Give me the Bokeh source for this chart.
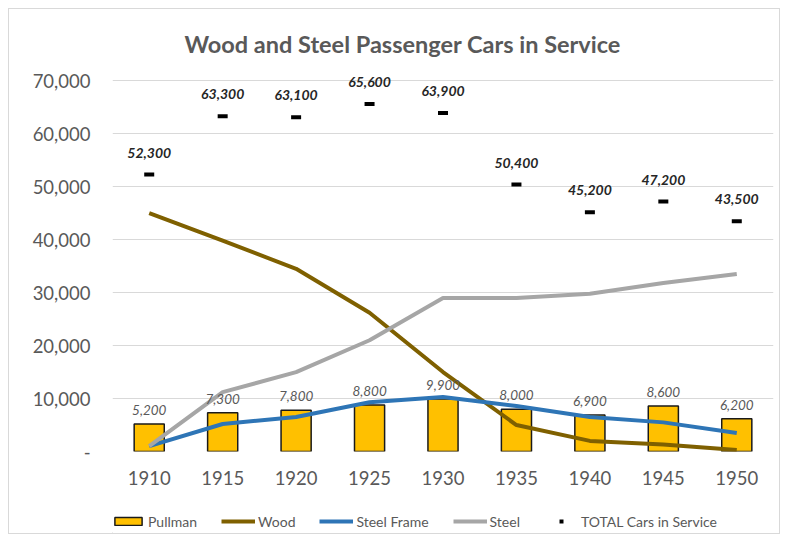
from bokeh.plotting import figure
from bokeh.layouts import column
from bokeh.models import ColumnDataSource, Range1d, FactorRange, FixedTicker, Legend, LegendItem
from bokeh.core.properties import value
from bokeh.embed import file_html
from bokeh.resources import INLINE

years = ["1910", "1915", "1920", "1925", "1930", "1935", "1940", "1945", "1950"]
pullman = [5200, 7300, 7800, 8800, 9900, 8000, 6900, 8600, 6200]
wood = [45000, 39800, 34500, 26200, 15000, 5000, 2000, 1300, 300]
steel_frame = [1000, 5200, 6500, 9300, 10300, 8600, 6500, 5500, 3500]
steel = [1000, 11200, 15000, 21000, 29000, 29000, 29800, 31800, 33500]
total = [52300, 63300, 63100, 65600, 63900, 50400, 45200, 47200, 43500]
y_ticks = [0, 10000, 20000, 30000, 40000, 50000, 60000, 70000]
series_names = ["Pullman", "Wood", "Steel Frame", "Steel", "TOTAL Cars in Service"]

FONT = "Lato"
GRAY = "#595959"
C_PULL, C_WOOD, C_SF, C_STEEL = "#FFC000", "#7F6000", "#2E75B6", "#A6A6A6"

src = ColumnDataSource(dict(
    x=years, pullman=pullman, wood=wood, steel_frame=steel_frame, steel=steel, total=total,
    pullman_lbl=[f"{v:,}" for v in pullman],
    total_lbl=[f"{v:,}" for v in total],
))

p = figure(width=770, height=500, x_range=FactorRange(*years), y_range=Range1d(0, 71000),
           output_backend="svg", toolbar_location=None,
           min_border_left=103, min_border_right=6, min_border_top=66, min_border_bottom=58)
p.outline_line_color = None
p.background_fill_color = "white"
p.border_fill_color = "white"

p.title.text = "Wood and Steel Passenger Cars in Service"
p.title.text_font = FONT
p.title.text_font_size = "23.5px"
p.title.text_font_style = "bold"
p.title.text_color = GRAY
p.title.align = "left"
p.title.offset = 72
p.title.standoff = 35

p.xgrid.grid_line_color = None
p.ygrid.grid_line_color = "#d9d9d9"
p.ygrid.grid_line_width = 1

p.yaxis.ticker = FixedTicker(ticks=y_ticks)
p.yaxis.major_label_overrides = {t: (f"{t:,}" if t else "-") for t in y_ticks}
for ax in (p.xaxis, p.yaxis):
    ax.axis_line_color = None
    ax.major_tick_line_color = None
    ax.minor_tick_line_color = None
    ax.major_label_text_font = FONT
    ax.major_label_text_font_size = "18.5px"
    ax.major_label_text_color = GRAY
p.yaxis.major_label_standoff = 16
p.xaxis.major_label_standoff = 13

p.vbar(x="x", top="pullman", width=0.41, source=src, fill_color=C_PULL,
       line_color="#1a1a1a", line_width=1.5)
p.line(x="x", y="wood", source=src, line_color=C_WOOD, line_width=4)
p.line(x="x", y="steel_frame", source=src, line_color=C_SF, line_width=4)
p.line(x="x", y="steel", source=src, line_color=C_STEEL, line_width=4)
p.scatter(x="x", y="total", source=src, marker="dash", size=10, line_width=4, line_color="black")

p.text(x="x", y="pullman", text="pullman_lbl", source=src, text_font=value(FONT),
       text_font_size="13.5px", text_font_style="italic", text_color=GRAY,
       text_align="center", text_baseline="bottom", y_offset=-9)
p.text(x="x", y="total", text="total_lbl", source=src, text_font=value(FONT),
       text_font_size="14px", text_font_style="bold italic", text_color="#262626",
       text_align="center", text_baseline="bottom", y_offset=-17)

# legend strip (legend-only renderers, their single point lies outside the visible range)
lg = figure(width=770, height=24, x_range=Range1d(0, 1), y_range=Range1d(0, 1),
            output_backend="svg", toolbar_location=None,
            x_axis_location=None, y_axis_location=None,
            min_border_left=0, min_border_right=0, min_border_top=0, min_border_bottom=0)
lg.outline_line_color = None
lg.grid.grid_line_color = None
offscreen = ColumnDataSource(dict(x=[-5], y=[-5]))
l_bar = lg.vbar(x="x", top="y", width=0.1, source=offscreen, fill_color=C_PULL,
                line_color="#1a1a1a", line_width=1.5)
l_wood = lg.line(x="x", y="y", source=offscreen, line_color=C_WOOD, line_width=4)
l_sf = lg.line(x="x", y="y", source=offscreen, line_color=C_SF, line_width=4)
l_steel = lg.line(x="x", y="y", source=offscreen, line_color=C_STEEL, line_width=4)
l_tot = lg.scatter(x="x", y="y", source=offscreen, marker="dash", size=10, line_width=4,
                   line_color="black")
legend = Legend(items=[LegendItem(label=n, renderers=[r]) for n, r in
                       zip(series_names, [l_bar, l_wood, l_sf, l_steel, l_tot])],
                orientation="horizontal", location=(-1, 3))
legend.label_text_font = FONT
legend.label_text_font_size = "14px"
legend.label_text_color = GRAY
legend.glyph_width = 34
legend.glyph_height = 10
legend.label_height = 18
legend.label_standoff = 3
legend.spacing = 24
legend.padding = 0
legend.margin = 0
legend.border_line_color = None
legend.background_fill_alpha = 0
lg.add_layout(legend, "center")

layout = column(p, lg, spacing=0,
                styles={"border": "1px solid #d9d9d9", "margin-left": "8px", "margin-top": "8px"})

open("out.html", "w").write(file_html(layout, INLINE))
